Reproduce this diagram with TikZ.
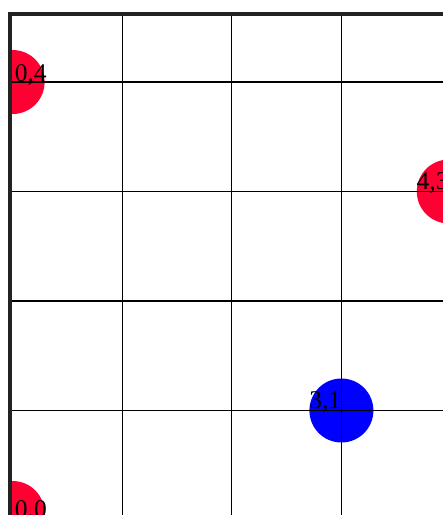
\documentclass[tikz,border=0pt]{standalone}
\usepackage{fontspec}
\setmainfont{Liberation Serif}
\usepackage{tikz}
\usetikzlibrary{positioning}
\definecolor{ptred}{HTML}{FF0033}
\definecolor{ptblue}{HTML}{0000FF}
\definecolor{frameink}{HTML}{222222}
\tikzset{
  pt/.style={circle,inner sep=0pt,minimum size=64pt,draw=none},
  redpt/.style={pt,fill=ptred},
  bluept/.style={pt,fill=ptblue},
  gridline/.style={black,line width=1.3pt},
  frame/.style={frameink,line width=4pt,line join=miter},
  lbl/.style={inner sep=0pt,font=\fontsize{25.5pt}{30pt}\selectfont},
}

\begin{document}
\begin{tikzpicture}[x=109.6pt,y=109.5pt]
\useasboundingbox (-0.115,0.0457) rectangle (3.927,4.749);
\begin{scope}
\clip (-0.0055,-1) rectangle (5,4.603);
% points
\node[redpt] (p00) at (0,0.064) {};
\node[redpt] (p04) at (0,4) {};
\node[redpt] (p43) at (3.98,3) {};
\node[bluept] (p31) at (3,1) {};
% grid
\foreach \i in {1,2,3} \draw[gridline] (\i,-1) -- (\i,5);
\foreach \j in {1,2,3,4} \draw[gridline] (-1,\j) -- (5,\j);
\end{scope}
% frame
\draw[frame] (-0.0237,-0.5) -- (-0.0237,4.621) -- (4.5,4.621);
% labels
\node[lbl,anchor=base west] (l00) at (0.02,0.027) {0,0};
\node[lbl,anchor=base west] (l04) at ([xshift=2pt,yshift=1pt]p04.center) {0,4};
\node[lbl,anchor=base east] (l43) at ([yshift=2pt]p43.center) {4,3};
\node[lbl,anchor=base east] (l31) at ([yshift=2pt]p31.center) {3,1};
\end{tikzpicture}
\end{document}
